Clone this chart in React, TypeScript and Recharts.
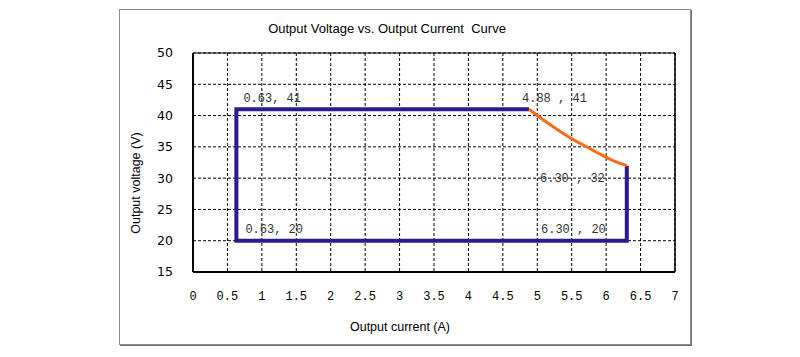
import { LineChart, Line, XAxis, YAxis, CartesianGrid, ReferenceLine, ReferenceDot } from 'recharts';

const xTicks = [0, 0.5, 1, 1.5, 2, 2.5, 3, 3.5, 4, 4.5, 5, 5.5, 6, 6.5, 7];
const yTicks = [15, 20, 25, 30, 35, 40, 45, 50];

// blue limit box (current, voltage)
const boxCurrent = [4.88, 0.63, 0.63, 6.3, 6.3];
const boxVoltage = [41, 41, 20, 20, 32];

// orange constant power segment
const powerCurrent = [4.88, 5.1, 5.3, 5.5, 5.7, 5.9, 6.1, 6.3];
const powerVoltage = [41, 39.2, 37.7, 36.3, 35.1, 33.9, 32.8, 32];

const noteX = [0.63, 4.88, 6.3, 0.63, 6.3];
const noteY = [41, 41, 32, 20, 20];
const noteText = ['0.63, 41', '4.88 , 41', '6.30 , 32', '0.63, 20', '6.30 , 20'];
const noteOffset = [
  { dx: 7, dy: -12, anchor: 'start' },
  { dx: -7, dy: -12, anchor: 'start' },
  { dx: -22, dy: 12, anchor: 'end' },
  { dx: 9, dy: -12, anchor: 'start' },
  { dx: -21, dy: -12, anchor: 'end' },
];

const boxData = boxCurrent.map((x, i) => ({ x, v: boxVoltage[i] }));
const powerData = powerCurrent.map((x, i) => ({ x, v: powerVoltage[i] }));

const sans = '"Liberation Sans", Arial, sans-serif';
const mono = '"Liberation Mono", "DejaVu Sans Mono", monospace';

const NoteLabel = (props: any) => {
  const { viewBox, text, dx, dy, anchor } = props;
  const cx = viewBox.x + (viewBox.width || 0) / 2;
  const cy = viewBox.y + (viewBox.height || 0) / 2;
  return (
    <text x={cx + dx} y={cy + dy} dy="0.35em" textAnchor={anchor} fontFamily={mono} fontSize={12} fill="#333">
      {text}
    </text>
  );
};

export default function App() {
  return (
    <div style={{ position: 'absolute', left: 0, top: 0, width: 800, height: 357, background: '#fff' }}>
      <div
        style={{
          position: 'absolute',
          left: 119,
          top: 9,
          width: 570,
          height: 334,
          border: '1px solid #8c8c8c',
          boxShadow: '1px 1px 0 #6e6e6e',
        }}
      />
      <div style={{ position: 'absolute', left: 0, width: 774, top: 21, textAlign: 'center', fontFamily: sans, fontSize: 13, color: '#000', whiteSpace: 'pre' }}>
        {'Output Voltage vs. Output Current  Curve'}
      </div>
      <div style={{ position: 'absolute', left: 300, width: 200, top: 320, textAlign: 'center', fontFamily: sans, fontSize: 12.5, color: '#000' }}>
        Output current (A)
      </div>
      <div
        style={{
          position: 'absolute',
          left: 37,
          width: 200,
          top: 175,
          textAlign: 'center',
          fontFamily: sans,
          fontSize: 12.5,
          color: '#000',
          transform: 'rotate(-90deg)',
          transformOrigin: '100px 8px',
        }}
      >
        Output voltage (V)
      </div>
      <div style={{ position: 'absolute', left: 0, top: 0 }}>
        <LineChart width={800} height={357} margin={{ top: 53, right: 125, bottom: 60, left: 153 }}>
          <CartesianGrid stroke="#000" strokeDasharray="3 2" strokeWidth={1} />
          <XAxis
            dataKey="x"
            type="number"
            domain={[0, 7]}
            ticks={xTicks}
            allowDataOverflow
            height={25}
            tickSize={0}
            tickMargin={19}
            axisLine={{ stroke: '#000', strokeWidth: 2 }}
            tickLine={false}
            tick={{ fontFamily: mono, fontSize: 12, fill: '#000' }}
          />
          <YAxis
            dataKey="v"
            type="number"
            domain={[15, 50]}
            ticks={yTicks}
            allowDataOverflow
            width={40}
            tickSize={0}
            tickMargin={20}
            axisLine={{ stroke: '#000', strokeWidth: 2 }}
            tickLine={false}
            tick={{ fontFamily: '"DejaVu Sans", sans-serif', fontSize: 12.5, fill: '#000' }}
          />
          <ReferenceLine y={50} stroke="#000" strokeWidth={1} />
          <ReferenceLine x={7} stroke="#000" strokeWidth={1.5} />
          <Line
            data={boxData}
            dataKey="v"
            stroke="#2b1b8e"
            strokeWidth={4}
            dot={false}
            type="linear"
            strokeLinejoin="miter"
            isAnimationActive={false}
          />
          <Line
            data={powerData}
            dataKey="v"
            stroke="#fb6a16"
            strokeWidth={3}
            dot={false}
            type="monotone"
            isAnimationActive={false}
          />
          {noteX.map((x, i) => (
            <ReferenceDot
              key={i}
              x={x}
              y={noteY[i]}
              r={0}
              stroke="none"
              fill="none"
              label={<NoteLabel text={noteText[i]} dx={noteOffset[i].dx} dy={noteOffset[i].dy} anchor={noteOffset[i].anchor} />}
            />
          ))}
        </LineChart>
      </div>
    </div>
  );
}
